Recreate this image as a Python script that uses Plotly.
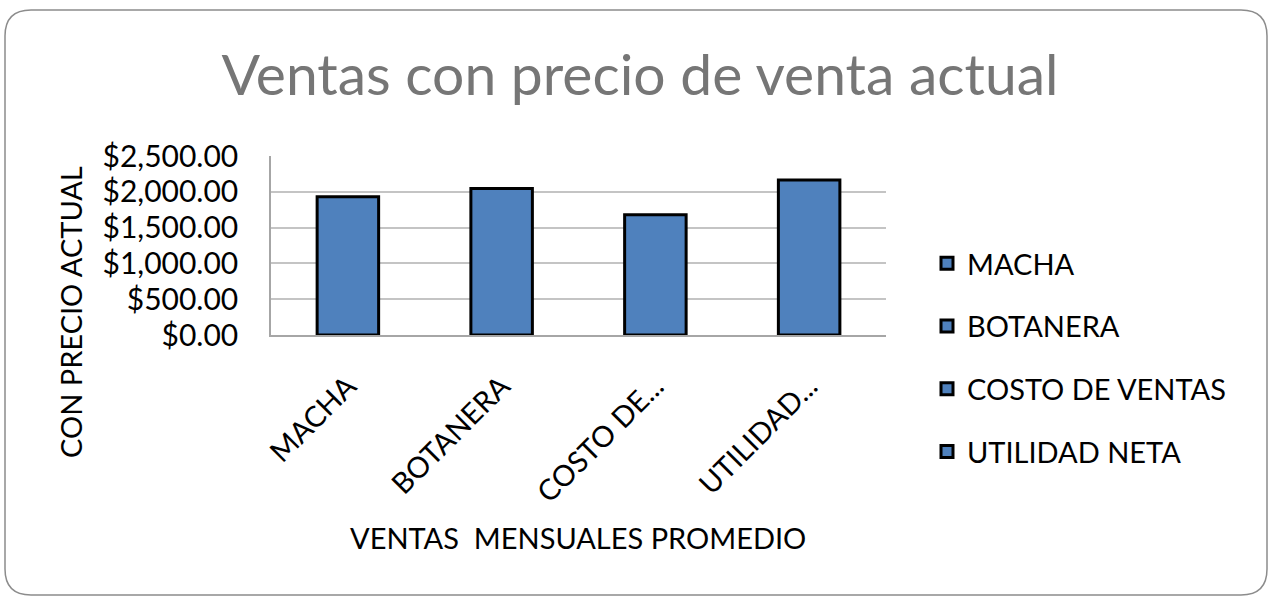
import plotly.graph_objects as go

categories = ["MACHA", "BOTANERA", "COSTO DE VENTAS", "UTILIDAD NETA"]
tick_labels = ["MACHA", "BOTANERA", "COSTO DE...", "UTILIDAD..."]
values = [1930, 2045, 1680, 2165]
y_ticks = [0, 500, 1000, 1500, 2000, 2500]
y_tick_labels = ["$0.00", "$500.00", "$1,000.00", "$1,500.00", "$2,000.00", "$2,500.00"]

W, H = 1271, 597
PL, PR, PT, PB = 271, 886, 156, 335  # plot area in pixels
FONT = "Lato"
BAR = "#4F81BD"

def px_x(px):
    return (px - PL) / (PR - PL)

def px_y(py):
    return (PB - py) / (PB - PT)

fig = go.Figure()
for i, (cat, val) in enumerate(zip(categories, values)):
    fig.add_trace(go.Bar(
        x=[cat], y=[val], name=cat, legendgroup=f"g{i}",
        width=0.4,
        marker=dict(color=BAR, line=dict(color="black", width=3)),
        hoverinfo="x+y",
    ))

# rounded border
x0, x1, y0, y1 = 5, 1267, 10, 595
r = 26
path = (
    f"M {px_x(x0 + r)} {px_y(y0)} L {px_x(x1 - r)} {px_y(y0)} "
    f"Q {px_x(x1)} {px_y(y0)} {px_x(x1)} {px_y(y0 + r)} "
    f"L {px_x(x1)} {px_y(y1 - r)} "
    f"Q {px_x(x1)} {px_y(y1)} {px_x(x1 - r)} {px_y(y1)} "
    f"L {px_x(x0 + r)} {px_y(y1)} "
    f"Q {px_x(x0)} {px_y(y1)} {px_x(x0)} {px_y(y1 - r)} "
    f"L {px_x(x0)} {px_y(y0 + r)} "
    f"Q {px_x(x0)} {px_y(y0)} {px_x(x0 + r)} {px_y(y0)} Z"
)
fig.add_shape(type="path", path=path, xref="paper", yref="paper",
              line=dict(color="#8c8c8c", width=1.5), layer="below")

fig.update_layout(
    width=W, height=H,
    margin=dict(l=PL, r=W - PR, t=PT, b=H - PB, autoexpand=False),
    paper_bgcolor="white", plot_bgcolor="white",
    barmode="overlay",
    font=dict(family=FONT, color="black"),
    title=dict(text="Ventas con precio de venta actual", x=640 / W, y=1 - 75 / H,
               xanchor="center", yanchor="middle", xref="container", yref="container",
               font=dict(family=FONT, size=57, color="#767676")),
    xaxis=dict(tickmode="array", tickvals=categories, ticktext=tick_labels,
               tickangle=-45, tickfont=dict(size=29, color="black"),
               ticklabelstandoff=21,
               showline=True, linecolor="#a6a6a6", linewidth=1.5,
               showgrid=False, ticks="", fixedrange=True),
    yaxis=dict(range=[0, 2500], tickmode="array", tickvals=y_ticks, ticktext=y_tick_labels,
               tickfont=dict(size=30, color="black"),
               showgrid=True, gridcolor="#c4c4c4", gridwidth=1.5,
               showline=True, linecolor="#a6a6a6", linewidth=1.5,
               zeroline=False, ticks="", ticklabelstandoff=25, fixedrange=True),
    legend=dict(x=927 / W, y=1 - 238 / H, xref="container", yref="container",
                xanchor="left", yanchor="top", maxheight=1,
                font=dict(size=29, color="black"), tracegroupgap=22,
                itemwidth=30, bgcolor="rgba(0,0,0,0)"),
    annotations=[
        dict(text="CON PRECIO ACTUAL", textangle=-90, x=px_x(70), y=px_y(312),
             xref="paper", yref="paper", xanchor="center", yanchor="middle",
             showarrow=False, font=dict(family=FONT, size=29, color="black")),
        dict(text="VENTAS  MENSUALES PROMEDIO", x=px_x(578), y=px_y(537),
             xref="paper", yref="paper", xanchor="center", yanchor="middle",
             showarrow=False, font=dict(family=FONT, size=29, color="black")),
    ],
)

fig.write_html("out.html", config={"displayModeBar": False},
               post_script="document.body.style.margin='0';document.body.style.overflow='hidden';")
